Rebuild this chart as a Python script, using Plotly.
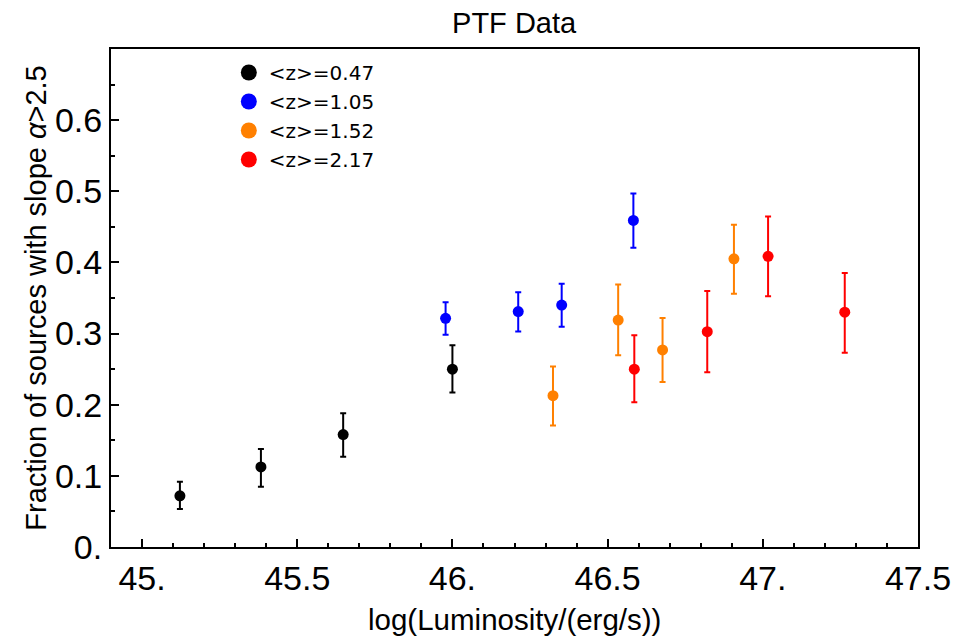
import plotly.graph_objects as go

# ---- data ----
series_names = ["&lt;z&gt;=0.47", "&lt;z&gt;=1.05", "&lt;z&gt;=1.52", "&lt;z&gt;=2.17"]
series_colors = ["#000000", "#0000FF", "#FF8000", "#FF0000"]

x_z047 = [45.122, 45.383, 45.648, 46.000]
y_z047 = [0.072, 0.1125, 0.158, 0.250]
up_z047 = [0.0197, 0.0253, 0.030, 0.0335]
dn_z047 = [0.0186, 0.0277, 0.031, 0.033]

x_z105 = [45.978, 46.212, 46.352, 46.583]
y_z105 = [0.3215, 0.331, 0.340, 0.459]
up_z105 = [0.0225, 0.027, 0.030, 0.038]
dn_z105 = [0.023, 0.028, 0.0305, 0.0385]

x_z152 = [46.324, 46.534, 46.677, 46.907]
y_z152 = [0.2127, 0.319, 0.277, 0.405]
up_z152 = [0.041, 0.050, 0.045, 0.048]
dn_z152 = [0.042, 0.0495, 0.045, 0.049]

x_z217 = [46.586, 46.821, 47.017, 47.264]
y_z217 = [0.250, 0.3027, 0.4086, 0.330]
up_z217 = [0.0476, 0.057, 0.056, 0.055]
dn_z217 = [0.0466, 0.057, 0.056, 0.057]

x_tickvals = [45.0, 45.5, 46.0, 46.5, 47.0, 47.5]
x_ticktext = ["45.", "45.5", "46.", "46.5", "47.", "47.5"]
y_tickvals = [0.0, 0.1, 0.2, 0.3, 0.4, 0.5, 0.6]
y_ticktext = ["0.", "0.1", "0.2", "0.3", "0.4", "0.5", "0.6"]

x_title = "log(Luminosity/(erg/s))"
y_title = "Fraction of sources with slope <i>α</i>>2.5"

xs = [x_z047, x_z105, x_z152, x_z217]
ys = [y_z047, y_z105, y_z152, y_z217]
ups = [up_z047, up_z105, up_z152, up_z217]
dns = [dn_z047, dn_z105, dn_z152, dn_z217]

fig = go.Figure()
for name, col, x, y, up, dn in zip(series_names, series_colors, xs, ys, ups, dns):
    fig.add_trace(go.Scatter(
        x=x, y=y, mode="markers", showlegend=False,
        marker=dict(color=col, size=11),
        error_y=dict(type="data", array=up, arrayminus=dn, color=col,
                     thickness=2, width=3),
    ))
# legend entries (larger symbols as in the reference)
for name, col in zip(series_names, series_colors):
    fig.add_trace(go.Scatter(
        x=[None], y=[None], mode="markers", name=name,
        marker=dict(color=col, size=16),
    ))

axis_common = dict(
    showline=True, linecolor="black", linewidth=2, mirror=True,
    ticks="inside", ticklen=8, tickwidth=1.5, tickcolor="black",
    showgrid=False, zeroline=False,
    tickfont=dict(size=34, color="black", family="Liberation Sans"),
)

fig.update_layout(
    width=970, height=640,
    margin=dict(l=111, r=52, t=49, b=93),
    paper_bgcolor="white", plot_bgcolor="white",
    font=dict(family="Liberation Sans", color="black"),
    title=dict(text="PTF Data", x=0.53, xanchor="center", y=1 - 23 / 640,
               yanchor="middle", font=dict(size=29, color="black")),
    xaxis=dict(
        range=[44.9, 47.5], tickvals=x_tickvals, ticktext=x_ticktext,
        minor=dict(dtick=0.1, ticks="inside", ticklen=4, tickcolor="black", tickwidth=1.5),
        **axis_common,
    ),
    yaxis=dict(
        range=[0, 0.7], tickvals=y_tickvals, ticktext=y_ticktext,
        minor=dict(dtick=0.05, ticks="inside", ticklen=4, tickcolor="black", tickwidth=1.5),
        title=dict(text=y_title, font=dict(size=29, color="black"), standoff=0),
        **axis_common,
    ),
    legend=dict(
        x=0.146, y=0.992, xanchor="left", yanchor="top",
        bgcolor="rgba(0,0,0,0)", borderwidth=0,
        font=dict(family="DejaVu Sans", size=20, color="black"),
        tracegroupgap=0,
    ),
    annotations=[dict(
        text=x_title, xref="paper", yref="paper", x=0.5, y=0,
        xanchor="center", yanchor="middle", yshift=-72, showarrow=False,
        font=dict(size=29.5, color="black", family="Liberation Sans"),
    )],
)

fig.write_html("out.html")
